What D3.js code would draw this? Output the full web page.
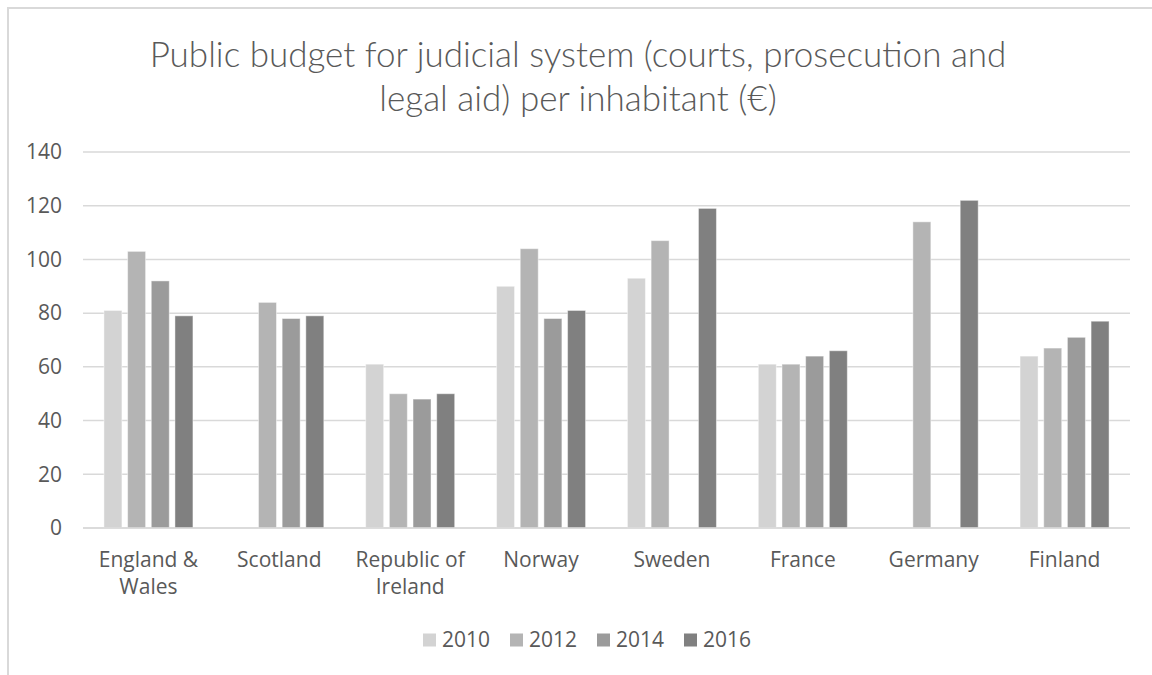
<!DOCTYPE html>
<html>
<head>
<meta charset="utf-8">
<script src="https://cdn.jsdelivr.net/npm/d3@7"></script>
<style>
  html, body { margin: 0; padding: 0; background: #fff; }
  svg { display: block; }
</style>
</head>
<body>
<div id="chart"></div>
<script>
// ---- data ----
const categories = ["England & Wales", "Scotland", "Republic of Ireland", "Norway", "Sweden", "France", "Germany", "Finland"];
const categoryLines = [["England &", "Wales"], ["Scotland"], ["Republic of", "Ireland"], ["Norway"], ["Sweden"], ["France"], ["Germany"], ["Finland"]];
const years = ["2010", "2012", "2014", "2016"];
const values2010 = [81, null, 61, 90, 93, 61, null, 64];
const values2012 = [103, 84, 50, 104, 107, 61, 114, 67];
const values2014 = [92, 78, 48, 78, null, 64, null, 71];
const values2016 = [79, 79, 50, 81, 119, 66, 122, 77];
const yTicks = [0, 20, 40, 60, 80, 100, 120, 140];
const yearColors = ["#d3d3d3", "#b4b4b4", "#9b9b9b", "#808080"];

const seriesValues = [values2010, values2012, values2014, values2016];

const width = 1152, height = 675;
const margin = { left: 83, right: 22, top: 152, bottom: 147 };
const labelFont = "'Open Sans', sans-serif";
const labelSize = 21;

const svg = d3.select("#chart").append("svg")
  .attr("width", width)
  .attr("height", height);

// chart frame
svg.append("rect")
  .attr("x", 8).attr("y", 8)
  .attr("width", width + 20).attr("height", height + 20)
  .attr("fill", "#fff")
  .attr("stroke", "#d9d9d9")
  .attr("stroke-width", 2);

const x0 = d3.scaleBand()
  .domain(categories)
  .range([margin.left, width - margin.right]);

const groupWidth = 89;
const x1 = d3.scaleBand()
  .domain(years)
  .range([0, groupWidth])
  .paddingInner(0.24);

const y = d3.scaleLinear()
  .domain([0, 140])
  .range([height - margin.bottom, margin.top]);

// ---- gridlines ----
svg.append("g")
  .selectAll("line")
  .data(yTicks)
  .join("line")
  .attr("x1", margin.left)
  .attr("x2", width - margin.right)
  .attr("y1", d => y(d))
  .attr("y2", d => y(d))
  .attr("stroke", "#d9d9d9")
  .attr("stroke-width", 1.5);

// ---- y labels ----
svg.append("g")
  .selectAll("text")
  .data(yTicks)
  .join("text")
  .attr("x", 62)
  .attr("y", d => y(d))
  .attr("dy", "0.35em")
  .attr("text-anchor", "end")
  .attr("font-family", labelFont)
  .attr("font-size", labelSize)
  .attr("fill", "#595959")
  .text(d => d);

// ---- bars ----
const rows = categories.map((c, i) => ({
  cat: c,
  vals: years.map((yr, j) => ({ year: yr, value: seriesValues[j][i], color: yearColors[j] }))
}));

const groups = svg.append("g")
  .selectAll("g")
  .data(rows)
  .join("g")
  .attr("transform", d => `translate(${x0(d.cat) + (x0.bandwidth() - groupWidth) / 2},0)`);

groups.selectAll("rect")
  .data(d => d.vals.filter(v => v.value != null))
  .join("rect")
  .attr("x", d => x1(d.year))
  .attr("width", x1.bandwidth())
  .attr("y", d => y(d.value))
  .attr("height", d => y(0) - y(d.value))
  .attr("fill", d => d.color)
  .attr("stroke", "#ffffff")
  .attr("stroke-opacity", 0.45)
  .attr("stroke-width", 1);

// baseline over bars
svg.append("line")
  .attr("x1", margin.left).attr("x2", width - margin.right)
  .attr("y1", y(0)).attr("y2", y(0))
  .attr("stroke", "#d9d9d9")
  .attr("stroke-width", 1.5);

// ---- category labels ----
const catLabels = svg.append("g")
  .selectAll("text")
  .data(categories)
  .join("text")
  .attr("x", d => x0(d) + x0.bandwidth() / 2)
  .attr("y", 560)
  .attr("text-anchor", "middle")
  .attr("font-family", labelFont)
  .attr("font-size", labelSize)
  .attr("fill", "#595959");

catLabels.selectAll("tspan")
  .data((d, i) => categoryLines[i].map((t, k) => ({ t, k, x: x0(d) + x0.bandwidth() / 2 })))
  .join("tspan")
  .attr("x", d => d.x)
  .attr("dy", d => d.k === 0 ? "0.35em" : 27)
  .text(d => d.t);

// ---- title ----
const title = svg.append("text")
  .attr("text-anchor", "middle")
  .attr("font-family", "Lato, sans-serif")
  .attr("font-weight", 300)
  .attr("font-size", 35)
  .attr("fill", "#595959");

title.append("tspan").attr("x", 578).attr("y", 67)
  .text("Public budget for judicial system (courts, prosecution and");
title.append("tspan").attr("x", 578).attr("y", 111)
  .text("legal aid) per inhabitant (€)");

// ---- legend ----
const legend = svg.append("g");
const legendX = [423, 510, 597, 684];
const item = legend.selectAll("g")
  .data(years)
  .join("g")
  .attr("transform", (d, i) => `translate(${legendX[i]},640)`);

item.append("rect")
  .attr("x", 0).attr("y", -6.5)
  .attr("width", 13).attr("height", 13)
  .attr("fill", (d, i) => yearColors[i]);

item.append("text")
  .attr("x", 19)
  .attr("dy", "0.35em")
  .attr("font-family", labelFont)
  .attr("font-size", labelSize)
  .attr("fill", "#595959")
  .text(d => d);
</script>
</body>
</html>
